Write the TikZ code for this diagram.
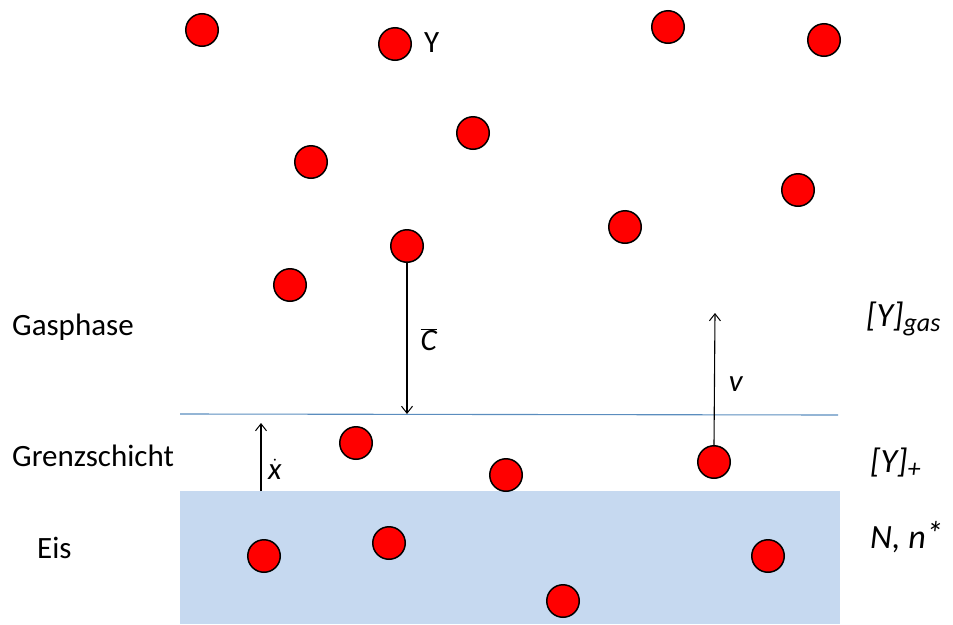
\documentclass[tikz,border=0pt]{standalone}
\usepackage{fontspec}
\setmainfont{Carlito}
\usetikzlibrary{arrows.meta}
\definecolor{ice}{HTML}{C6D9F0}
\definecolor{lineblue}{HTML}{5B8DBE}
\newcommand{\mysub}[1]{\raisebox{-0.32ex}{\fontsize{26}{28}\selectfont\textit{#1}}}
\tikzset{
  mol/.style={circle,draw=black,fill=red,line width=1.5pt,minimum size=32.5pt,inner sep=0pt},
  lbl/.style={font=\fontsize{31}{36}\selectfont,inner sep=0pt,anchor=base west},
  rlbl/.style={font=\fontsize{34}{38}\selectfont,inner sep=0pt,anchor=base west},
  sym/.style={font=\fontsize{31}{36}\selectfont,inner sep=0pt,anchor=center},
  arr/.style={line width=1.1pt,-{Straight Barb[length=7pt,width=11pt,line width=1pt]}}
}
\begin{document}
\begin{tikzpicture}[x=1pt,y=-1pt]
\useasboundingbox (0,0) rectangle (953,624);
\fill[ice] (180,491) rectangle (840,624);
\coordinate (la) at (180,414);
\coordinate (lb) at (838,415);
\draw[lineblue,line width=1.1pt] (la) -- (lb);
% molecules
\node[mol] (m1) at (202,30) {};
\node[mol] (m2) at (395,44) {};
\node[mol] (m3) at (668,27) {};
\node[mol] (m4) at (824,40) {};
\node[mol] (m5) at (473,133) {};
\node[mol] (m6) at (311,162) {};
\node[mol] (m7) at (798,190) {};
\node[mol] (m8) at (625,227) {};
\node[mol] (m9) at (407,246) {};
\node[mol] (m10) at (290,285) {};
\node[mol] (m11) at (356,443) {};
\node[mol] (m12) at (506,475) {};
\node[mol] (m13) at (714,462) {};
\node[mol] (m14) at (264,556) {};
\node[mol] (m15) at (389,543) {};
\node[mol] (m16) at (563,601) {};
\node[mol] (m17) at (768,556) {};
\node[lbl] (ylab) at (424,52) {Y};
% arrows
\coordinate (cend) at (407,414);
\draw[arr] (m9.south) -- (cend);
\node[sym] (clab) at (429,340) {\(\overline{\mbox{\textit{C}}}\)};
\coordinate (vend) at (715,313);
\draw[arr] (m13.north) -- (vend);
\node[sym] (vlab) at (736,384) {\textit{v}};
\coordinate (xs) at (261,491);
\coordinate (xe) at (261,423);
\draw[arr] (xs) -- (xe);
\node[sym] (xlab) at (275,469) {\(\dot{\mbox{\textit{x}}}\)};
% left labels
\node[lbl] (gas) at (12,335) {Gasphase};
\node[lbl] (grenz) at (12,466) {Grenzschicht};
\node[lbl] (eis) at (37,558) {Eis};
% right labels
\node[rlbl] (ygas) at (866,326) {\textit{[Y]}\mysub{gas}};
\node[rlbl] (yplus) at (870,472) {\textit{[Y]}\mysub{+}};
\node[rlbl] (nn) at (870,548) {\textit{N, n\raisebox{0.18ex}{*}}};
\end{tikzpicture}
\end{document}
